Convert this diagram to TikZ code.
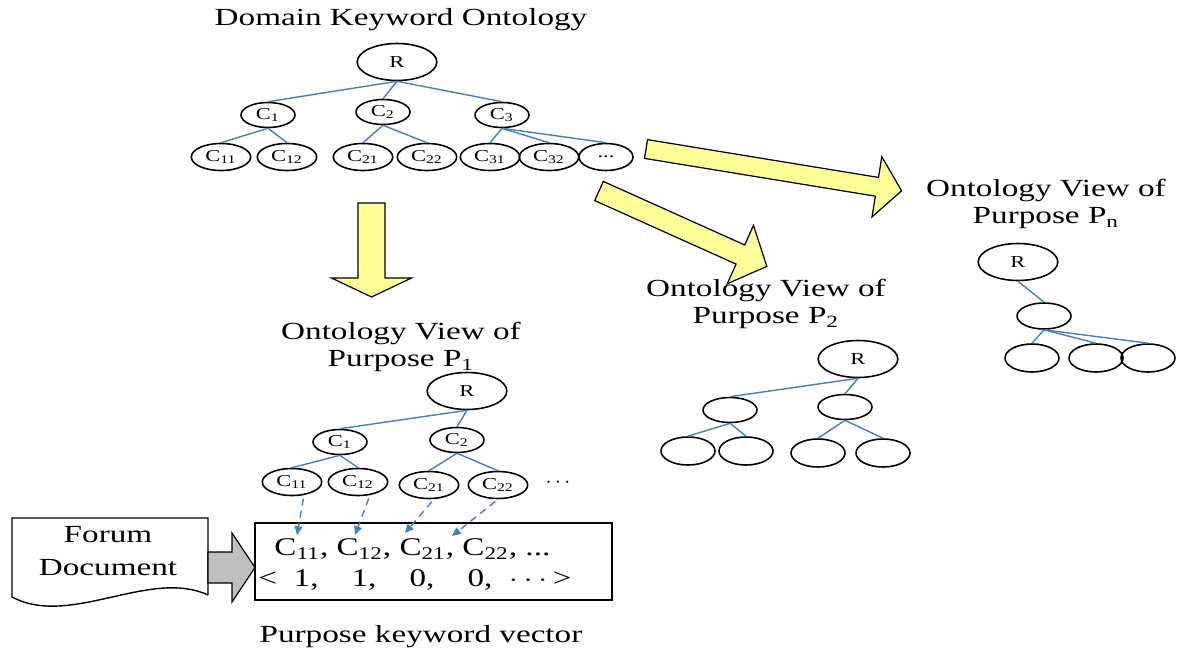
\documentclass[tikz,border=0pt]{standalone}
\usepackage{fontspec}
\setmainfont{Liberation Serif}
\usetikzlibrary{shapes.geometric,arrows.meta}
\definecolor{treeblue}{RGB}{74,126,187}
\definecolor{fatyellow}{RGB}{255,255,153}
\newcommand{\pxu}{0.02cm}
% block arrow: tail, angle, length, half body, half head, head length, fill
\newcommand{\fatarrow}[7]{%
  \begin{scope}[shift={#1},rotate=#2]
    \filldraw[fill=#7,line width=0.7pt] (0,-#4) -- ({#3-#6},-#4) -- ({#3-#6},-#5) -- (#3,0)
      -- ({#3-#6},#5) -- ({#3-#6},#4) -- (0,#4) -- cycle;
  \end{scope}}
\begin{document}
\begin{tikzpicture}[x=\pxu,y=-\pxu,
  txt/.style={font=\fontsize{14}{15.5}\selectfont,align=center,xscale=1.35,inner sep=0pt},
  vtxt/.style={font=\fontsize{14.5}{16}\selectfont,xscale=1.3,inner sep=0pt,anchor=west},
  onode/.style={draw,ellipse,xscale=1.35,inner sep=0pt,line width=0.9pt,font=\fontsize{9.5}{10}\selectfont},
  rootnode/.style={onode,minimum width=59*\pxu,minimum height=37*\pxu},
  innode/.style={onode,minimum width=40*\pxu,minimum height=25*\pxu},
  leafnode/.style={onode,minimum width=44*\pxu,minimum height=27*\pxu},
  plainleaf/.style={onode,minimum width=40*\pxu,minimum height=28*\pxu},
  tedge/.style={treeblue,line width=0.8pt},
  dasharr/.style={treeblue,line width=0.8pt,dash pattern=on 4pt off 3pt,-{Triangle[length=5pt,width=4.5pt]},shorten <=2pt}]
\useasboundingbox (0,0) rectangle (1180,652);

% domain ontology
\node[txt] (dtitle) at (401,20) {Domain Keyword Ontology};
\node[rootnode] (r0) at (397,62) {R};
\node[innode] (c1) at (268,115) {C\textsubscript{1}};
\node[innode] (c2) at (383,112) {C\textsubscript{2}};
\node[innode] (c3) at (502,115) {C\textsubscript{3}};
\node[leafnode] (c11) at (221,157) {C\textsubscript{11}};
\node[leafnode] (c12) at (287,157) {C\textsubscript{12}};
\node[leafnode] (c21) at (363,157) {C\textsubscript{21}};
\node[leafnode] (c22) at (427,157) {C\textsubscript{22}};
\node[leafnode] (c31) at (490,157) {C\textsubscript{31}};
\node[leafnode] (c32) at (549,157) {C\textsubscript{32}};
\node[plainleaf,minimum height=27*\pxu] (c3x) at (606,157) {...};
\foreach \p/\c in {r0/c1,r0/c2,r0/c3,c1/c11,c1/c12,c2/c21,c2/c22,c3/c31,c3/c32,c3/c3x}
  \draw[tedge] (\p.south) -- (\c.north);

\fatarrow{(371.5,203)}{-90}{94}{13.5}{40}{19}{fatyellow}
\fatarrow{(599,191)}{-24.2}{184}{10.5}{32}{29}{fatyellow}
\fatarrow{(646,149)}{-9.3}{259}{9.5}{30.5}{25}{fatyellow}

% view of P1
\node[txt] (t1) at (401,347) {Ontology View of\\Purpose P\textsubscript{1}};
\node[rootnode] (p1r) at (467,391) {R};
\node[innode] (p1c1) at (340,442) {C\textsubscript{1}};
\node[innode] (p1c2) at (457,440) {C\textsubscript{2}};
\node[leafnode] (p1c11) at (292,482) {C\textsubscript{11}};
\node[leafnode] (p1c12) at (358,482) {C\textsubscript{12}};
\node[leafnode] (p1c21) at (429,485) {C\textsubscript{21}};
\node[leafnode] (p1c22) at (498,485) {C\textsubscript{22}};
\node[font=\fontsize{12}{12}\selectfont] (p1dots) at (558,483) {$\cdots$};
\foreach \p/\c in {p1r/p1c1,p1r/p1c2,p1c1/p1c11,p1c1/p1c12,p1c2/p1c21,p1c2/p1c22}
  \draw[tedge] (\p.south) -- (\c.north);

% view of P2
\node[txt] (t2) at (766,304) {Ontology View of\\Purpose P\textsubscript{2}};
\node[rootnode] (p2r) at (858,359) {R};
\node[innode] (p2a) at (730,410) {};
\node[innode] (p2b) at (845,407) {};
\node[plainleaf] (p2a1) at (688,451) {};
\node[plainleaf] (p2a2) at (746,451) {};
\node[plainleaf] (p2b1) at (818,453) {};
\node[plainleaf] (p2b2) at (883,453) {};
\foreach \p/\c in {p2r/p2a,p2r/p2b,p2a/p2a1,p2a/p2a2,p2b/p2b1,p2b/p2b2}
  \draw[tedge] (\p.south) -- (\c.north);

% view of Pn
\node[txt] (tn) at (1046,204) {Ontology View of\\Purpose P\textsubscript{n}};
\node[rootnode] (pnr) at (1018,262) {R};
\node[innode,minimum height=26*\pxu] (pnm) at (1044,316) {};
\node[plainleaf] (pn1) at (1032,358) {};
\node[plainleaf] (pn2) at (1096,358) {};
\node[plainleaf] (pn3) at (1148,358) {};
\foreach \p/\c in {pnr/pnm,pnm/pn1,pnm/pn2,pnm/pn3}
  \draw[tedge] (\p.south) -- (\c.north);

% forum document and keyword vector
\filldraw[fill=white,line width=0.8pt] (208,595) -- (208,518) -- (12,518) -- (12,597)
  .. controls (70,628) and (150,568) .. (208,595);
\node[txt,font=\fontsize{14}{18.5}\selectfont] (fdoc) at (108,551) {Forum\\Document};
\fatarrow{(208,567.5)}{0}{47}{15.5}{34.5}{23}{gray!50}
\node[draw,line width=0.8pt,minimum width=357*\pxu,minimum height=77*\pxu] (vbox) at (433.5,561.5) {};
\node[vtxt] (vrow1) at (274,549) {C\textsubscript{11}, C\textsubscript{12}, C\textsubscript{21}, C\textsubscript{22}, ...};
\node[vtxt] (vrow2) at (258,580) {<\enspace 1,\quad 1,\quad 0,\quad 0,\enspace$\cdots$\,>};
\node[txt] (vlabel) at (421,637) {Purpose keyword vector};
\coordinate (k1) at (297,535);
\coordinate (k2) at (355,535);
\coordinate (k3) at (405,533);
\coordinate (k4) at (452,536);
\draw[dasharr] (p1c11.-56) -- (k1);
\draw[dasharr] (p1c12.-56) -- (k2);
\draw[dasharr] (p1c21.-75) -- (k3);
\draw[dasharr] (p1c22.-90) -- (k4);
\end{tikzpicture}
\end{document}
